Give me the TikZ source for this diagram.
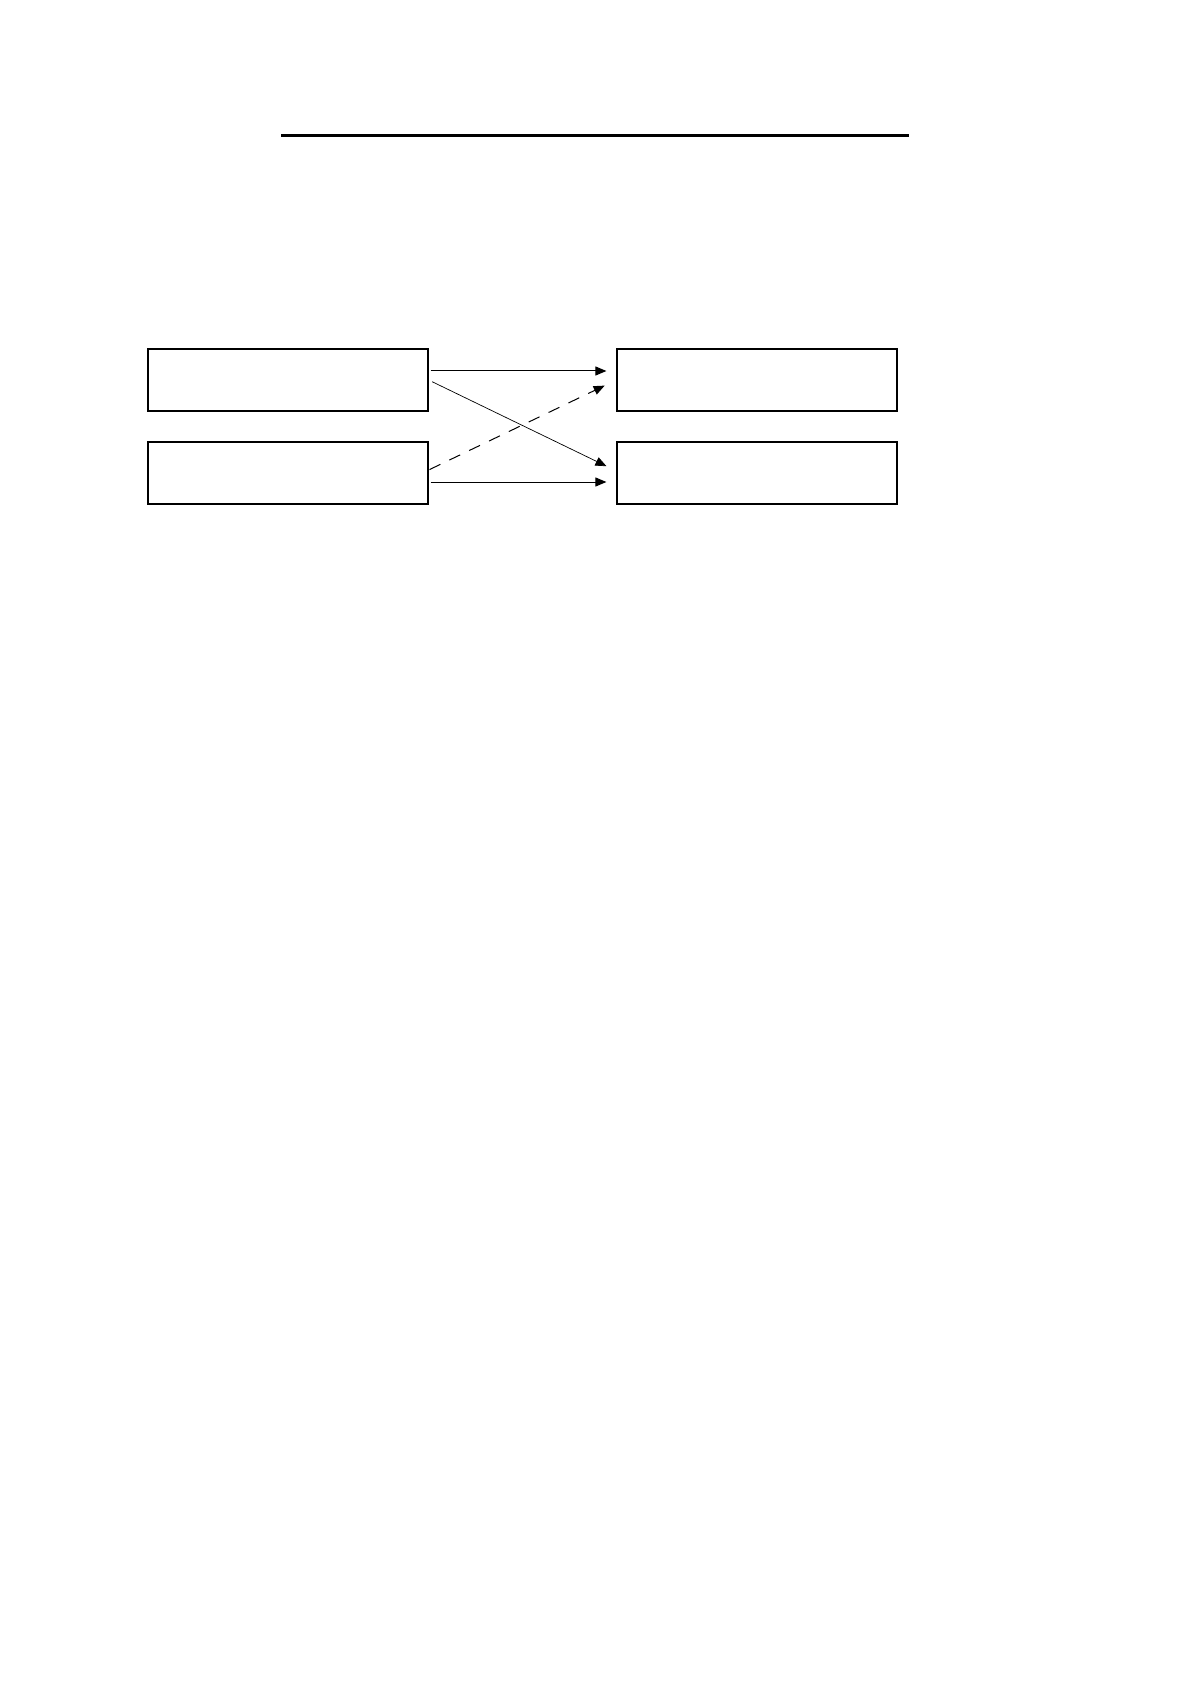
\documentclass[tikz,border=0pt]{standalone}
\usepackage{xcolor}
\usepackage{tikz}
\usetikzlibrary{arrows.meta}

\begin{document}
\begin{tikzpicture}[x=0.5pt, y=-0.5pt,
    box/.style={draw, line width=0.6pt, minimum width=140pt, minimum height=31pt, inner sep=0pt},
    link/.style={line width=0.5pt, -{Triangle[length=5.5pt, width=4.5pt]}}]
    \useasboundingbox (0,0) rectangle (1191,1684);

    \coordinate (H1) at (281,136);
    \coordinate (H2) at (909,136);

    \node [box] (A1) at (288,380) {};
    \node [box] (A2) at (288,473) {};
    \node [box] (B1) at (757,380) {};
    \node [box] (B2) at (757,473) {};

    \draw [line width=1.5pt] (H1) to (H2);

    \draw [link, shorten <=1pt, shorten >=5pt] ([yshift=4.5pt]A1.east) to ([yshift=4.5pt]B1.west);
    \draw [link, shorten <=1pt, shorten >=5pt] ([yshift=-4.5pt]A2.east) to ([yshift=-4.5pt]B2.west);
    \draw [link, line width=0.35pt, shorten <=2pt, shorten >=5.5pt] (A1.east) to ([yshift=1pt]B2.west);
    \draw [link, dash pattern=on 6pt off 5pt, shorten <=0.5pt, shorten >=6.5pt] ([yshift=1.5pt]A2.east) to (B1.west);
\end{tikzpicture}
\end{document}
